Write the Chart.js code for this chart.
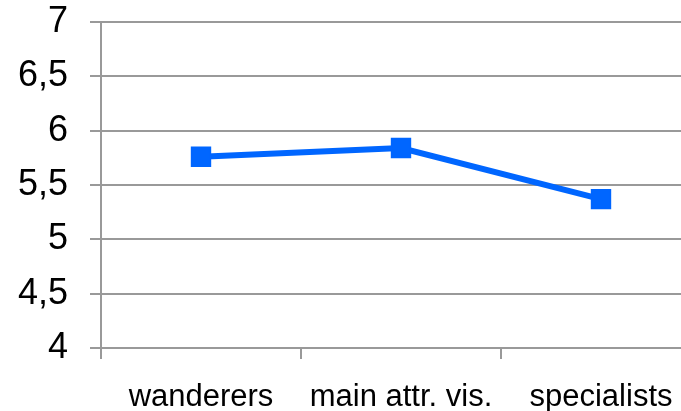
<!DOCTYPE html>
<html>
<head>
<meta charset="utf-8">
<script src="https://cdn.jsdelivr.net/npm/chart.js@4"></script>
<style>
  html, body { margin: 0; padding: 0; background: #fff; overflow: hidden; }
  #wrap { width: 681px; height: 411px; overflow: hidden; }
</style>
</head>
<body>
<div id="wrap"><canvas id="chart" width="716" height="411"></canvas></div>
<script>
// values
const categories = ['wanderers', 'main attr. vis.', 'specialists'];
const values = [5.76, 5.84, 5.37];
const yTicks = [4, 4.5, 5, 5.5, 6, 6.5, 7];
const yTickLabels = ['4', '4,5', '5', '5,5', '6', '6,5', '7'];

const gridColor = '#999999';
const blue = '#0066ff';

const ctx = document.getElementById('chart').getContext('2d');
new Chart(ctx, {
    type: 'line',
    data: {
        labels: categories,
        datasets: [{
            data: values,
            borderColor: blue,
            backgroundColor: blue,
            borderWidth: 6,
            pointStyle: 'rect',
            pointRadius: 13,
            pointBorderWidth: 2,
            pointBorderColor: blue,
            pointBackgroundColor: blue,
            tension: 0
        }]
    },
    options: {
        responsive: false,
        animation: false,
        devicePixelRatio: 1,
        layout: { padding: { top: 22, left: 0, right: 0, bottom: 0 } },
        plugins: { legend: { display: false }, tooltip: { enabled: false } },
        scales: {
            x: {
                offset: true,
                grid: {
                    offset: true,
                    drawOnChartArea: false,
                    drawTicks: true,
                    tickLength: 11,
                    color: gridColor,
                    lineWidth: 2
                },
                border: { display: false },
                ticks: {
                    color: '#000',
                    padding: 20,
                    maxRotation: 0,
                    autoSkip: false,
                    font: { family: '"Liberation Sans", Arial, sans-serif', size: 31 }
                },
                afterFit(scale) {
                    scale.height = 63;
                    scale.paddingLeft = 0;
                    scale.paddingRight = 0;
                }
            },
            y: {
                min: 4,
                max: 7,
                afterBuildTicks(scale) {
                    scale.ticks = yTicks.map(v => ({ value: v }));
                },
                grid: {
                    color: gridColor,
                    lineWidth: 2,
                    tickLength: 11
                },
                border: { display: true, color: gridColor, width: 2 },
                ticks: {
                    color: '#000',
                    padding: 22,
                    font: { family: '"Liberation Sans", Arial, sans-serif', size: 36 },
                    callback: (v) => yTickLabels[yTicks.indexOf(v)]
                },
                afterFit(scale) {
                    scale.width = 101;
                    scale.paddingTop = 0;
                    scale.paddingBottom = 0;
                }
            }
        }
    }
});
</script>
</body>
</html>
